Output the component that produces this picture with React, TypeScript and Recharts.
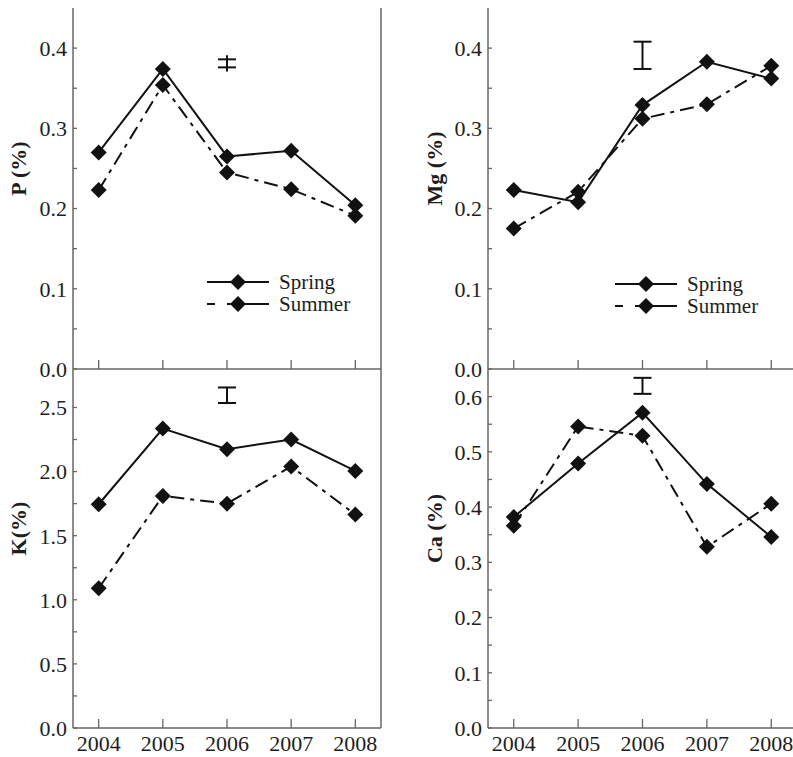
import React from 'react';
import { LineChart, Line, XAxis, YAxis, ReferenceLine, Legend, Label } from 'recharts';

const years = [2004, 2005, 2006, 2007, 2008];

// nutrient concentrations (%) per year
const pSpring = [0.27, 0.374, 0.265, 0.272, 0.204];
const pSummer = [0.223, 0.354, 0.245, 0.224, 0.191];
const mgSpring = [0.223, 0.208, 0.329, 0.383, 0.362];
const mgSummer = [0.175, 0.221, 0.312, 0.33, 0.378];
const kSpring = [1.745, 2.335, 2.175, 2.25, 2.005];
const kSummer = [1.09, 1.81, 1.75, 2.04, 1.665];
const caSpring = [0.382, 0.479, 0.571, 0.442, 0.346];
const caSummer = [0.366, 0.546, 0.529, 0.328, 0.406];

// LSD bars shown above 2006: [low cap, high cap]
const pLsd = [0.376, 0.386];
const mgLsd = [0.374, 0.408];
const kLsd = [2.535, 2.656];
const caLsd = [0.605, 0.634];

const pMajor = [0, 0.1, 0.2, 0.3, 0.4];
const pMinor = [0.05, 0.15, 0.25, 0.35];
const kMajor = [0, 0.5, 1.0, 1.5, 2.0, 2.5];
const kMinor = [0.25, 0.75, 1.25, 1.75, 2.25];
const caMajor = [0, 0.1, 0.2, 0.3, 0.4, 0.5, 0.6];
const caMinor = [0.05, 0.15, 0.25, 0.35, 0.45, 0.55];

const seriesNames = ['Spring', 'Summer'];

const FONT = "'Liberation Serif', 'Times New Roman', serif";
const INK = '#111';
const AXIS = '#666';
const TEXT = '#1e1e1e';
const SUMMER_DASH = '14 6 4 6';

const Diamond = (props: any) => {
  const { cx, cy } = props;
  if (cx == null || cy == null) return null;
  const r = 8;
  return <path d={`M${cx},${cy - r}L${cx + r},${cy}L${cx},${cy + r}L${cx - r},${cy}Z`} fill={INK} />;
};

const YTick = (props: any) => {
  const { x, y, payload, major } = props;
  const ax = x + 6;
  const isMajor = major.some((v: number) => Math.abs(v - payload.value) < 1e-9);
  return (
    <g>
      <line x1={ax} x2={ax + 4} y1={y} y2={y} stroke={AXIS} strokeWidth={1.3} />
      {isMajor && (
        <text x={x} y={y} dy="0.36em" textAnchor="end" fontFamily={FONT} fontSize={22} fill={TEXT}>
          {payload.value.toFixed(1)}
        </text>
      )}
    </g>
  );
};

const XTick = (props: any) => {
  const { x, y, payload, showLabel } = props;
  return (
    <g>
      <line x1={x} x2={x} y1={y} y2={y - 9} stroke={AXIS} strokeWidth={1.3} />
      {showLabel && (
        <text x={x} y={y + 23} textAnchor="middle" fontFamily={FONT} fontSize={22} fill={TEXT}>
          {payload.value}
        </text>
      )}
    </g>
  );
};

const LegendBox = ({ rowHeight }: { rowHeight: number }) => (
  <div style={{ fontFamily: FONT, fontSize: 21, color: TEXT }}>
    {seriesNames.map((name, i) => (
      <div key={name} style={{ display: 'flex', alignItems: 'center', height: rowHeight }}>
        <svg width={62} height={18}>
          <line
            x1={0}
            x2={62}
            y1={9}
            y2={9}
            stroke={INK}
            strokeWidth={2}
            strokeDasharray={i === 1 ? '8 12 60' : undefined}
          />
          <Diamond cx={31} cy={9} />
        </svg>
        <span style={{ marginLeft: 10, lineHeight: `${rowHeight}px` }}>{name}</span>
      </div>
    ))}
  </div>
);

const lsdLines = (lsd: number[], extend: number) => {
  const x0 = 2006;
  const w = 0.14;
  return [
    <ReferenceLine
      key="v"
      segment={[{ x: x0, y: lsd[0] - extend }, { x: x0, y: lsd[1] + extend }]}
      stroke={INK}
      strokeWidth={2}
    />,
    <ReferenceLine key="lo" segment={[{ x: x0 - w, y: lsd[0] }, { x: x0 + w, y: lsd[0] }]} stroke={INK} strokeWidth={2} />,
    <ReferenceLine key="hi" segment={[{ x: x0 - w, y: lsd[1] }, { x: x0 + w, y: lsd[1] }]} stroke={INK} strokeWidth={2} />,
  ];
};

type PanelProps = {
  left: number;
  top: number;
  width: number;
  height: number;
  margin: { top: number; right: number; left: number; bottom: number };
  yWidth: number;
  xHeight: number;
  title: string;
  titleX: number;
  yMax: number;
  major: number[];
  minor: number[];
  spring: number[];
  summer: number[];
  lsd: number[];
  lsdExtend?: number;
  showYears: boolean;
  legend?: { left: number; top: number; rowHeight: number };
};

const Panel = (p: PanelProps) => {
  const data = years.map((year, i) => ({ year, spring: p.spring[i], summer: p.summer[i] }));
  const ticks = [...p.major, ...p.minor].sort((a, b) => a - b);
  return (
    <div style={{ position: 'absolute', left: p.left, top: p.top }}>
      <LineChart width={p.width} height={p.height} data={data} margin={p.margin}>
        <XAxis
          type="number"
          dataKey="year"
          domain={[2003.6, 2008.4]}
          ticks={years}
          interval={0}
          allowDataOverflow
          height={p.xHeight}
          tickSize={0}
          tickMargin={0}
          tickLine={false}
          axisLine={{ stroke: AXIS, strokeWidth: 1.5 }}
          tick={<XTick showLabel={p.showYears} />}
        />
        <YAxis
          type="number"
          domain={[0, p.yMax]}
          ticks={ticks}
          interval={0}
          allowDataOverflow
          width={p.yWidth}
          tickSize={0}
          tickMargin={6}
          tickLine={false}
          axisLine={{ stroke: AXIS, strokeWidth: 1.5 }}
          tick={<YTick major={p.major} />}
        >
          <Label
            content={(lp: any) => {
              const vb = lp.viewBox;
              const cx = vb.x + p.titleX;
              const cy = vb.y + vb.height / 2 - 20;
              return (
                <text
                  x={cx}
                  y={cy}
                  transform={`rotate(-90 ${cx} ${cy})`}
                  textAnchor="middle"
                  dominantBaseline="central"
                  fontFamily={FONT}
                  fontSize={22}
                  fontWeight="bold"
                  fill={TEXT}
                >
                  {p.title}
                </text>
              );
            }}
          />
        </YAxis>
        <ReferenceLine x={2008.4} stroke={AXIS} strokeWidth={1.5} />
        {lsdLines(p.lsd, p.lsdExtend ?? 0)}
        <Line
          dataKey="summer"
          name="Summer"
          stroke={INK}
          strokeWidth={2}
          strokeDasharray={SUMMER_DASH}
          dot={<Diamond />}
          activeDot={false}
          isAnimationActive={false}
        />
        <Line
          dataKey="spring"
          name="Spring"
          stroke={INK}
          strokeWidth={2}
          dot={<Diamond />}
          activeDot={false}
          isAnimationActive={false}
        />
        {p.legend && (
          <Legend
            layout="vertical"
            align="center"
            verticalAlign="middle"
            wrapperStyle={{ left: p.legend.left, top: p.legend.top, width: 'auto' }}
            content={() => <LegendBox rowHeight={p.legend!.rowHeight} />}
          />
        )}
      </LineChart>
    </div>
  );
};

export default function App() {
  return (
    <div
      style={{
        position: 'absolute',
        left: 0,
        top: 0,
        width: 793,
        height: 757,
        overflow: 'hidden',
        background: '#fff',
      }}
    >
      <Panel
        left={0}
        top={360}
        width={400}
        height={397}
        margin={{ top: 9, right: 19, left: 0, bottom: 0 }}
        yWidth={73}
        xHeight={29}
        title="K(%)"
        titleX={18}
        yMax={2.8}
        major={kMajor}
        minor={kMinor}
        spring={kSpring}
        summer={kSummer}
        lsd={kLsd}
        showYears
      />
      <Panel
        left={400}
        top={360}
        width={410}
        height={397}
        margin={{ top: 9, right: 13, left: 0, bottom: 0 }}
        yWidth={88}
        xHeight={29}
        title="Ca (%)"
        titleX={34}
        yMax={0.65}
        major={caMajor}
        minor={caMinor}
        spring={caSpring}
        summer={caSummer}
        lsd={caLsd}
        showYears
      />
      <Panel
        left={0}
        top={0}
        width={400}
        height={392}
        margin={{ top: 8, right: 19, left: 0, bottom: 0 }}
        yWidth={73}
        xHeight={23}
        title="P (%)"
        titleX={18}
        yMax={0.45}
        major={pMajor}
        minor={pMinor}
        spring={pSpring}
        summer={pSummer}
        lsd={pLsd}
        lsdExtend={0.005}
        showYears={false}
        legend={{ left: 207, top: 271, rowHeight: 22 }}
      />
      <Panel
        left={400}
        top={0}
        width={410}
        height={392}
        margin={{ top: 8, right: 13, left: 0, bottom: 0 }}
        yWidth={88}
        xHeight={23}
        title="Mg (%)"
        titleX={34}
        yMax={0.45}
        major={pMajor}
        minor={pMinor}
        spring={mgSpring}
        summer={mgSummer}
        lsd={mgLsd}
        showYears={false}
        legend={{ left: 215, top: 273, rowHeight: 22 }}
      />
    </div>
  );
}
